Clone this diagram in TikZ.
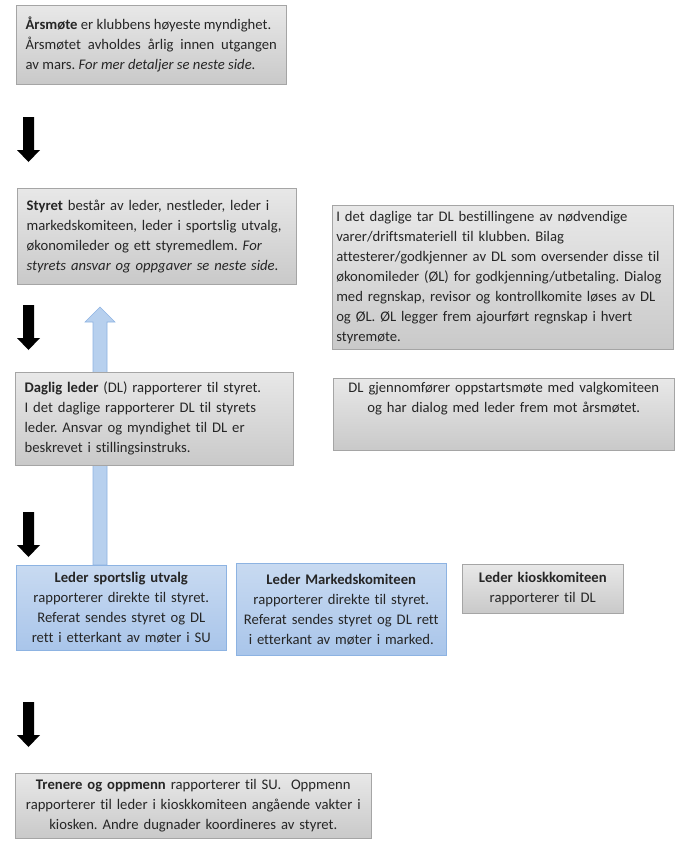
\documentclass[tikz,border=0pt]{standalone}
\usepackage{fontspec}
\setmainfont{Carlito}[Ligatures=NoCommon]
\usepackage{xcolor}
\usepackage{tikz}
\definecolor{graatopp}{HTML}{E8E8E8}
\definecolor{graabunn}{HTML}{C9C9C9}
\definecolor{graalinje}{HTML}{A5A5A5}
\definecolor{blaatopp}{HTML}{C8DAF1}
\definecolor{blaabunn}{HTML}{A9C5EA}
\definecolor{blaalinje}{HTML}{8DB3E2}
\definecolor{blaapil}{HTML}{B7D0EE}
\definecolor{tekst}{HTML}{262626}
\frenchspacing
\hyphenpenalty=10000
\exhyphenpenalty=10000

\begin{document}
\begin{tikzpicture}[x=0.75pt, y=-0.75pt,
  graaboks/.style={draw=graalinje, top color=graatopp, bottom color=graabunn,
    anchor=north west, inner xsep=7pt, inner ysep=2pt, text=tekst,
    font=\fontsize{11}{15}\selectfont},
  blaaboks/.style={graaboks, draw=blaalinje, top color=blaatopp,
    bottom color=blaabunn, align=center, inner xsep=4pt}]
  \useasboundingbox (0,0) rectangle (682,850);

  % black arrows down the left side
  \foreach \t in {117,305,512,702}{
    \fill[black] (23,\t) -- (34,\t) -- (34,\t+33) -- (40,\t+33)
      -- (28.5,\t+45) -- (17,\t+33) -- (23,\t+33) -- cycle;
  }
  % blue arrow from SU up to the board (behind DL)
  \draw[blaalinje, fill=blaapil] (93,565) -- (93,322) -- (85,322) -- (100,307)
    -- (115,322) -- (107,322) -- (107,565) -- cycle;

  \node[graaboks, minimum width=202.5pt, minimum height=59.25pt,
        text width=188.5pt, align=justify] (aarsmote) at (16,5)
    {\textbf{Årsmøte} er klubbens høyeste myndighet.\\
     Årsmøtet avholdes årlig innen utgangen\linebreak
     av mars. \textit{For mer detaljer se neste side.}};
  \node[graaboks, minimum width=209.25pt, minimum height=72pt,
        text width=195.25pt, align=left] (styret) at (17,188)
    {\textbf{Styret} består av leder, nestleder, leder i\\
     markedskomiteen, leder i sportslig utvalg,\\
     økonomileder og ett styremedlem. \textit{For}\\
     \textit{styrets ansvar og oppgaver se neste side.}};
  \node[graaboks, minimum width=255.75pt, minimum height=108pt,
        text width=249.75pt, inner xsep=3pt, align=left] (oppgaver) at (332,205)
    {I det daglige tar DL bestillingene av nødvendige\\
     varer/driftsmateriell til klubben. Bilag\\
     attesterer/godkjenner av DL som oversender disse til\\
     økonomileder (ØL) for godkjenning/utbetaling. Dialog\\
     med regnskap, revisor og kontrollkomite løses av DL\\
     og ØL. ØL legger frem ajourført regnskap i hvert\\
     styremøte.};
  \node[graaboks, minimum width=255.75pt, minimum height=54pt,
        text width=241.75pt, align=center] (valg) at (333,378)
    {DL gjennomfører oppstartsmøte med valgkomiteen\\
     og har dialog med leder frem mot årsmøtet.\par\kern24pt};
  \node[graaboks, minimum width=208.5pt, minimum height=69.75pt,
        text width=194.5pt, align=left] (daglig) at (15,372)
    {\textbf{Daglig leder} (DL) rapporterer til styret.\\
     I det daglige rapporterer DL til styrets\\
     leder. Ansvar og myndighet til DL er\\
     beskrevet i stillingsinstruks.};

  \node[blaaboks, minimum width=157.5pt, minimum height=63.75pt,
        text width=149.5pt] (sportslig) at (16,565)
    {\textbf{Leder sportslig utvalg}\\
     rapporterer direkte til styret.\\
     Referat sendes styret og DL\\
     rett i etterkant av møter i SU};
  \node[blaaboks, minimum width=157.5pt, minimum height=69pt,
        text width=149.5pt] (marked) at (236,563)
    {\textbf{Leder Markedskomiteen}\\
     rapporterer direkte til styret.\\
     Referat sendes styret og DL rett\\
     i etterkant av møter i marked.};
  \node[graaboks, minimum width=120.75pt, minimum height=36.75pt,
        text width=112.75pt, inner xsep=4pt, align=center] (kiosk) at (462,564)
    {\textbf{Leder kioskkomiteen}\\
     rapporterer til DL};

  \node[graaboks, minimum width=267pt, minimum height=48.75pt,
        text width=259pt, inner xsep=4pt, align=center] (trenere) at (15,773)
    {\textbf{Trenere og oppmenn} rapporterer til SU.\ \ Oppmenn\\
     rapporterer til leder i kioskkomiteen angående vakter i\\
     kiosken. Andre dugnader koordineres av styret.};
\end{tikzpicture}
\end{document}
